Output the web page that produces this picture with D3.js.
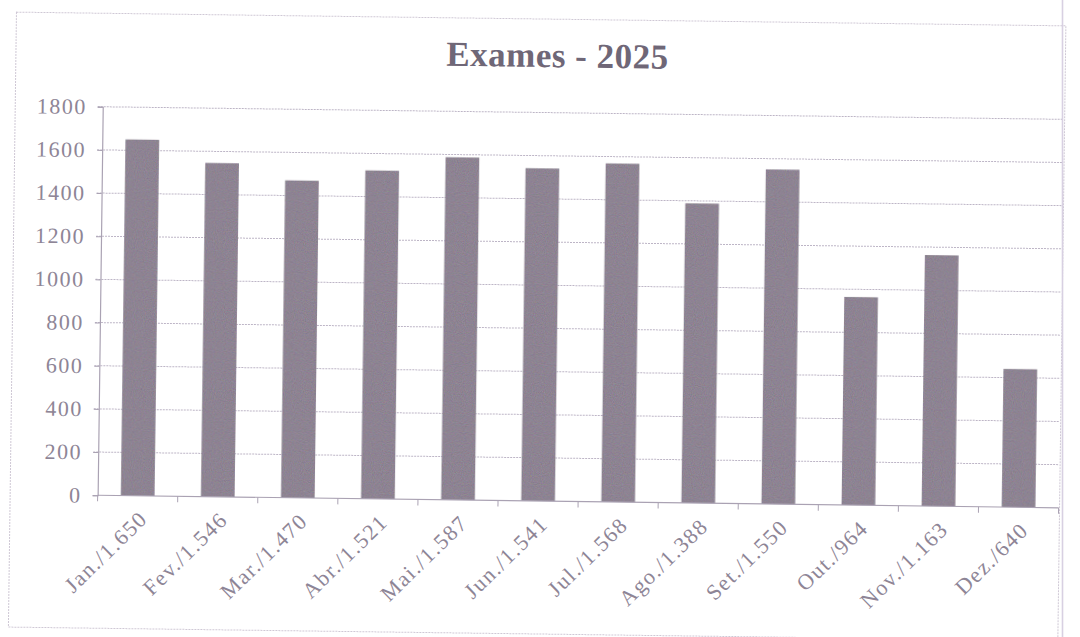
<!DOCTYPE html>
<html>
<head>
<meta charset="utf-8">
<script src="https://cdn.jsdelivr.net/npm/d3@7/dist/d3.min.js"></script>
<style>
  html, body { margin: 0; padding: 0; background: #ffffff; }
  svg { display: block; }
</style>
</head>
<body>
<script>
// ---- data ----
const title = "Exames - 2025";
const months = ["Jan.", "Fev.", "Mar.", "Abr.", "Mai.", "Jun.", "Jul.", "Ago.", "Set.", "Out.", "Nov.", "Dez."];
const valueLabels = ["1.650", "1.546", "1.470", "1.521", "1.587", "1.541", "1.568", "1.388", "1.550", "964", "1.163", "640"];
const values = [1650, 1546, 1470, 1521, 1587, 1541, 1568, 1388, 1550, 964, 1163, 640];
const yTicks = [0, 200, 400, 600, 800, 1000, 1200, 1400, 1600, 1800];

const W = 1080, H = 637;
const m = { left: 100, right: 19, top: 112.5, bottom: 136 };
const categories = months.map((mo, i) => mo + "/" + valueLabels[i]);

const svg = d3.select("body").append("svg").attr("width", W).attr("height", H);

// noise texture to mimic the scanned, dithered bars
const defs = svg.append("defs");
const f = defs.append("filter").attr("id", "grain").attr("x", 0).attr("y", 0).attr("width", 1).attr("height", 1);
f.append("feTurbulence").attr("type", "fractalNoise").attr("baseFrequency", 0.9).attr("numOctaves", 2).attr("seed", 4).attr("result", "noise");
f.append("feColorMatrix").attr("in", "noise").attr("type", "matrix")
  .attr("values", "0.9 0 0 0 0.05  0 0.9 0 0 0.05  0 0 0.9 0 0.05  0 0 0 0 0.35").attr("result", "cn");
f.append("feComposite").attr("in", "cn").attr("in2", "SourceGraphic").attr("operator", "in").attr("result", "cnin");
f.append("feBlend").attr("in", "cnin").attr("in2", "SourceGraphic").attr("mode", "overlay");

// scanned page is slightly rotated
const g = svg.append("g").attr("transform", `rotate(0.75, ${W / 2}, ${H / 2})`);

// chart area border
g.append("rect")
  .attr("x", 12.5).attr("y", 19).attr("width", 1062 - 12.5).attr("height", 634 - 19)
  .attr("fill", "none").attr("stroke", "#cfc8d5").attr("stroke-width", 1)
  .attr("stroke-dasharray", "2,1");

const x = d3.scaleBand().domain(categories)
  .range([m.left, W - m.right]).paddingInner(0.58).paddingOuter(0.29);
const y = d3.scaleLinear().domain([0, 1800]).range([H - m.bottom, m.top]);

// gridlines
g.append("g").selectAll("line").data(yTicks.filter(d => d > 0)).join("line")
  .attr("x1", m.left - 5).attr("x2", W - m.right)
  .attr("y1", d => y(d)).attr("y2", d => y(d))
  .attr("stroke", "#bdb5c6").attr("stroke-width", 1).attr("stroke-dasharray", "2,1");

// y axis
const yAxis = g.append("g").attr("transform", `translate(${m.left},0)`)
  .call(d3.axisLeft(y).tickValues(yTicks).tickSize(5).tickPadding(11).tickFormat(d3.format("d")));
yAxis.select(".domain").attr("stroke", "#aaa2b3").attr("stroke-width", 1.2);
yAxis.selectAll(".tick line").attr("stroke", "#aaa2b3");
yAxis.selectAll("text")
  .attr("font-family", "'Liberation Serif', 'DejaVu Serif', serif")
  .attr("font-size", 22).attr("fill", "#8e8596").attr("letter-spacing", 1.5);

// bars
g.append("g").selectAll("rect").data(values).join("rect")
  .attr("x", (d, i) => x(categories[i]))
  .attr("y", d => y(d))
  .attr("width", x.bandwidth())
  .attr("height", d => y(0) - y(d))
  .attr("fill", "#8d8392")
  .attr("filter", "url(#grain)");

// x axis with ticks between categories
const y0 = y(0);
g.append("line").attr("x1", m.left).attr("x2", W - m.right).attr("y1", y0).attr("y2", y0)
  .attr("stroke", "#aaa2b3").attr("stroke-width", 1.2);
const boundaries = d3.range(categories.length + 1).map(i => m.left + i * x.step());
g.append("g").selectAll("line").data(boundaries).join("line")
  .attr("x1", d => d).attr("x2", d => d).attr("y1", y0).attr("y2", y0 + 6)
  .attr("stroke", "#aaa2b3");

// x labels rotated -45
g.append("g").selectAll("text").data(categories).join("text")
  .attr("transform", d => `translate(${x(d) + x.bandwidth() / 2 + 6},${y0 + 19}) rotate(-45)`)
  .attr("text-anchor", "end").attr("dy", "0.35em")
  .attr("font-family", "'Liberation Serif', 'DejaVu Serif', serif")
  .attr("font-size", 22).attr("fill", "#8e8596").attr("letter-spacing", 1.5)
  .text(d => d);

// title
g.append("text").attr("x", 554).attr("y", 67)
  .attr("text-anchor", "middle")
  .attr("font-family", "'Liberation Serif', 'DejaVu Serif', serif")
  .attr("font-weight", "bold").attr("font-size", 35).attr("fill", "#6f6777")
  .attr("letter-spacing", 0.5)
  .text(title);

// page edge line at right
svg.append("line").attr("x1", 1062.5).attr("x2", 1062.5).attr("y1", 0).attr("y2", H)
  .attr("stroke", "#d8d0e2").attr("stroke-width", 1.6);
</script>
</body>
</html>
